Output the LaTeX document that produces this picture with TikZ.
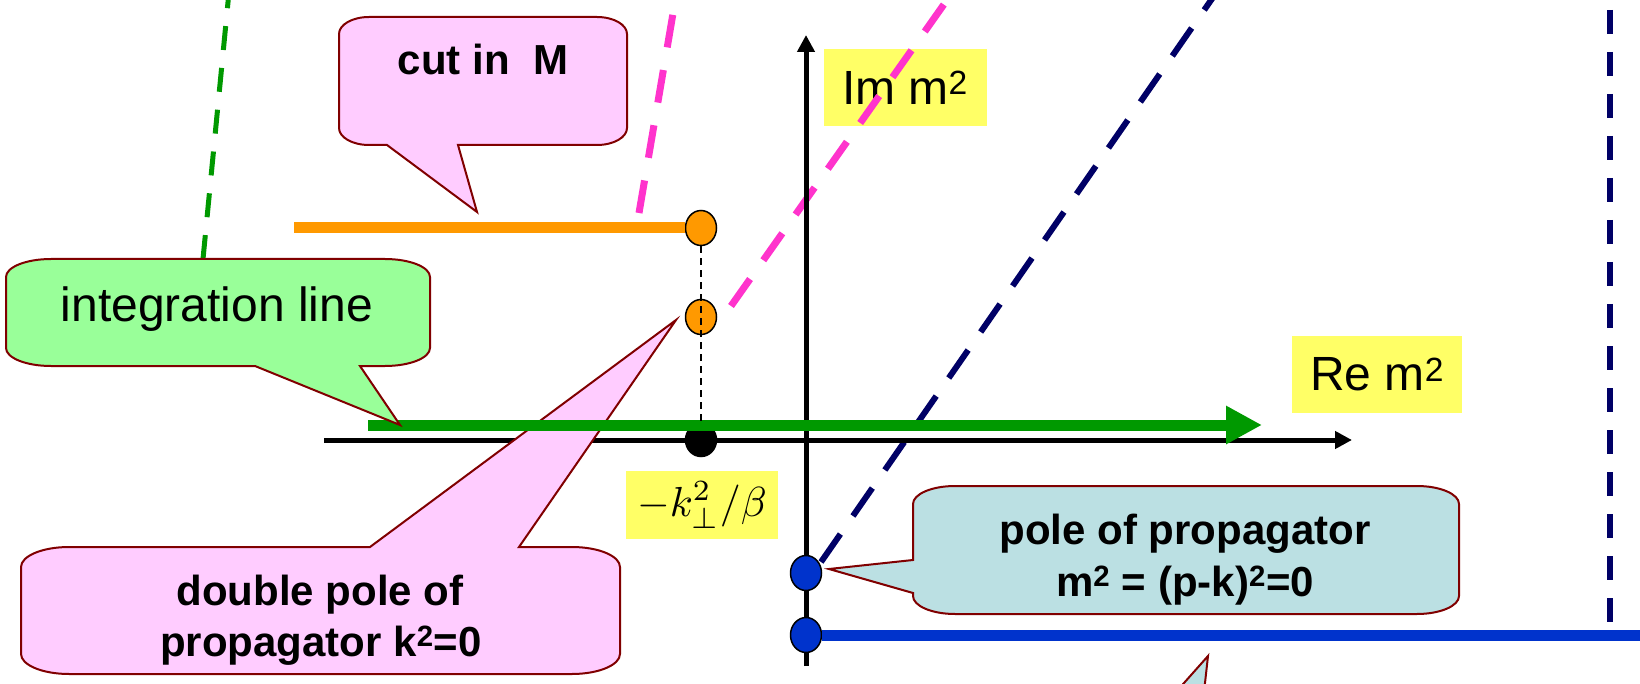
\documentclass[tikz,border=0pt]{standalone}
\usepackage{graphicx}
\usepackage{fontspec}
\setmainfont{Liberation Sans}
\usetikzlibrary{arrows.meta,shapes.geometric}
\definecolor{bubblepink}{HTML}{FFCCFF}
\definecolor{bubblegreen}{HTML}{99FF99}
\definecolor{bubbleblue}{HTML}{BBE0E3}
\definecolor{bubbleedge}{HTML}{800000}
\definecolor{tagyellow}{HTML}{FFFF66}
\definecolor{lineorange}{HTML}{FF9900}
\definecolor{linegreen}{HTML}{009900}
\definecolor{linemagenta}{HTML}{FF33CC}
\definecolor{linenavy}{HTML}{000066}
\definecolor{lineblue}{HTML}{0033CC}
\begin{document}
\begin{tikzpicture}[x=1pt,y=-1pt,
  bubble/.style={fill=#1,draw=bubbleedge,line width=2pt,line join=miter},
  ytag/.style={fill=tagyellow,inner sep=0pt},
  regtxt/.style={font=\fontsize{48}{56}\selectfont},
  boldtxt/.style={font=\fontsize{42}{50}\selectfont\bfseries},
  axisline/.style={line width=5pt,-{Triangle[length=17pt,width=17pt]}},
  greenarrow/.style={draw=linegreen,line width=11pt,-{Triangle[length=36pt,width=36pt]}},
  thickbar/.style={line width=11pt},
  greendash/.style={draw=linegreen,line width=5pt,dash pattern=on 24pt off 18pt},
  magdash/.style={draw=linemagenta,line width=7pt,dash pattern=on 33pt off 23pt},
  navydiag/.style={draw=linenavy,line width=6pt,dash pattern=on 34pt off 22pt},
  navyvert/.style={draw=linenavy,line width=6pt,dash pattern=on 24pt off 18pt},
  thindash/.style={draw=black,line width=1.5pt,dash pattern=on 7pt off 5pt},
  pdot/.style={ellipse,draw=black,line width=1.5pt,fill=#1,minimum width=31pt,minimum height=35pt,inner sep=0pt},
]
\useasboundingbox (0,0) rectangle (1640,684);

% yellow tags
\node[ytag,regtxt,minimum width=163pt,minimum height=77pt] (im) at (905,87.5) {Im m\textsuperscript{2}};
\node[ytag,regtxt,minimum width=170pt,minimum height=77pt] (re) at (1377,374.5) {Re m\textsuperscript{2}};
\node[ytag,minimum width=152pt,minimum height=68pt] (kb) at (702,505) {\scalebox{4.2}{$-k_\perp^2/\beta$}};

% dashed lines
\draw[greendash] (203,259) -- (229,-8);
\draw[magdash] (639,213) -- (677,-10);
\draw[magdash] (731,306) -- (947,0);
\draw[navydiag] (821,562) -- (1216,-7);
\draw[navyvert] (1610,10) -- (1610,625);

% axes
\draw[axisline] (324,440) -- (1352,440);
\draw[axisline] (806,666) -- (806,35);

% dots
\node[pdot=lineorange] (o1) at (701,228) {};
\node[pdot=lineorange] (o2) at (701,317) {};
\node[pdot=black,minimum height=33pt] (k0) at (701,440) {};
\node[pdot=lineblue] (b1) at (806,573) {};
\node[pdot=lineblue] (b2) at (806,635) {};

% orange and blue bars
\draw[thickbar,draw=lineorange] (294,228) -- (o1.west);
\draw[thickbar,draw=lineblue] (b2.east) -- (1645,635);

% double pole callout (over axis, under green line)
\path[bubble=bubblepink] (69,547) -- (370,547) -- (676,320) -- (519,547) -- (572,547)
  arc[start angle=270,end angle=360,x radius=48,y radius=20] -- (620,654)
  arc[start angle=0,end angle=90,x radius=48,y radius=20] -- (69,674)
  arc[start angle=90,end angle=180,x radius=48,y radius=20] -- (21,567)
  arc[start angle=180,end angle=270,x radius=48,y radius=20] -- cycle;

% integration line
\draw[greenarrow] (368,425) -- (1262,425);

% cut in M callout
\path[bubble=bubblepink] (369,17) -- (597,17)
  arc[start angle=270,end angle=360,x radius=30,y radius=17] -- (627,128)
  arc[start angle=0,end angle=90,x radius=30,y radius=17] -- (458,145) -- (477,212) -- (387,145) -- (369,145)
  arc[start angle=90,end angle=180,x radius=30,y radius=17] -- (339,34)
  arc[start angle=180,end angle=270,x radius=30,y radius=17] -- cycle;

% integration line callout
\path[bubble=bubblegreen] (51,259) -- (385,259)
  arc[start angle=270,end angle=360,x radius=45,y radius=18] -- (430,348)
  arc[start angle=0,end angle=90,x radius=45,y radius=18] -- (360,366) -- (400,425) -- (255,366) -- (51,366)
  arc[start angle=90,end angle=180,x radius=45,y radius=18] -- (6,277)
  arc[start angle=180,end angle=270,x radius=45,y radius=18] -- cycle;

% pole of propagator callout
\path[bubble=bubbleblue] (955,486) -- (1417,486)
  arc[start angle=270,end angle=360,x radius=42,y radius=18] -- (1459,596)
  arc[start angle=0,end angle=90,x radius=42,y radius=18] -- (955,614)
  arc[start angle=90,end angle=180,x radius=42,y radius=18] -- (913,593) -- (829,569) -- (913,560) -- (913,504)
  arc[start angle=180,end angle=270,x radius=42,y radius=18] -- cycle;

% partial callout pointer at the bottom
\path[bubble=bubbleblue] (1176,692) -- (1208,656) -- (1204,692);

% thin dashed drop line
\draw[thindash] (o1) -- (k0);

% texts
\node[boldtxt,anchor=base] (tcut) at (483,75) {cut in\ \ M};
\node[regtxt,anchor=base] (tint) at (217,322) {integration line};
\node[boldtxt,anchor=base] (tdp1) at (320,605) {double pole of};
\node[boldtxt,anchor=base] (tdp2) at (321,656) {propagator k\textsuperscript{2}=0};
\node[boldtxt,anchor=base] (tpp1) at (1185,544) {pole of propagator};
\node[boldtxt,anchor=base] (tpp2) at (1185,596) {m\textsuperscript{2} = (p-k)\textsuperscript{2}=0};
\end{tikzpicture}
\end{document}
